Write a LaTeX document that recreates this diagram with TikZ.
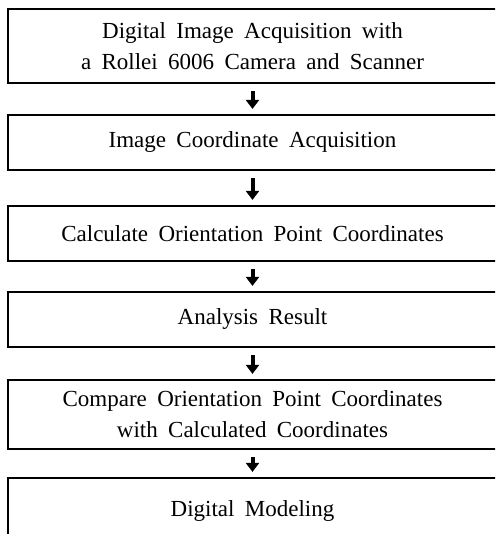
\documentclass[tikz,border=0pt]{standalone}
\usepackage{fontspec}
\setmainfont{Liberation Serif}[WordSpace=1.8]
\usetikzlibrary{arrows.meta}
\begin{document}
\begin{tikzpicture}[x=1pt,y=1pt,
  stage/.style={draw, line width=2.2pt, minimum width=489pt, align=center,
    font=\fontsize{23}{31}\selectfont, inner sep=0pt},
  flow/.style={line width=4pt, -{Triangle[width=13pt,length=9pt]},
    shorten <=7pt, shorten >=5pt}]
\useasboundingbox (0,0) rectangle (495,-534);
\clip (0,0) rectangle (495,-534);
\node[stage, minimum height=74pt] (b1) at (252.5,-46) {Digital Image Acquisition with\\a Rollei 6006 Camera and Scanner};
\node[stage, minimum height=55pt] (b2) at (252.5,-142.5) {Image Coordinate Acquisition};
\node[stage, minimum height=55pt] (b3) at (252.5,-233.5) {Calculate Orientation Point Coordinates};
\node[stage, minimum height=55pt] (b4) at (252.5,-319.5) {Analysis Result};
\node[stage, minimum height=69pt] (b5) at (252.5,-414.5) {Compare Orientation Point Coordinates\\with Calculated Coordinates};
\node[stage, minimum height=66pt] (b6) at (252.5,-511) {Digital Modeling};
\draw[flow] (b1) -- (b2);
\draw[flow] (b2) -- (b3);
\draw[flow] (b3) -- (b4);
\draw[flow] (b4) -- (b5);
\draw[flow] (b5) -- (b6);
\end{tikzpicture}
\end{document}
